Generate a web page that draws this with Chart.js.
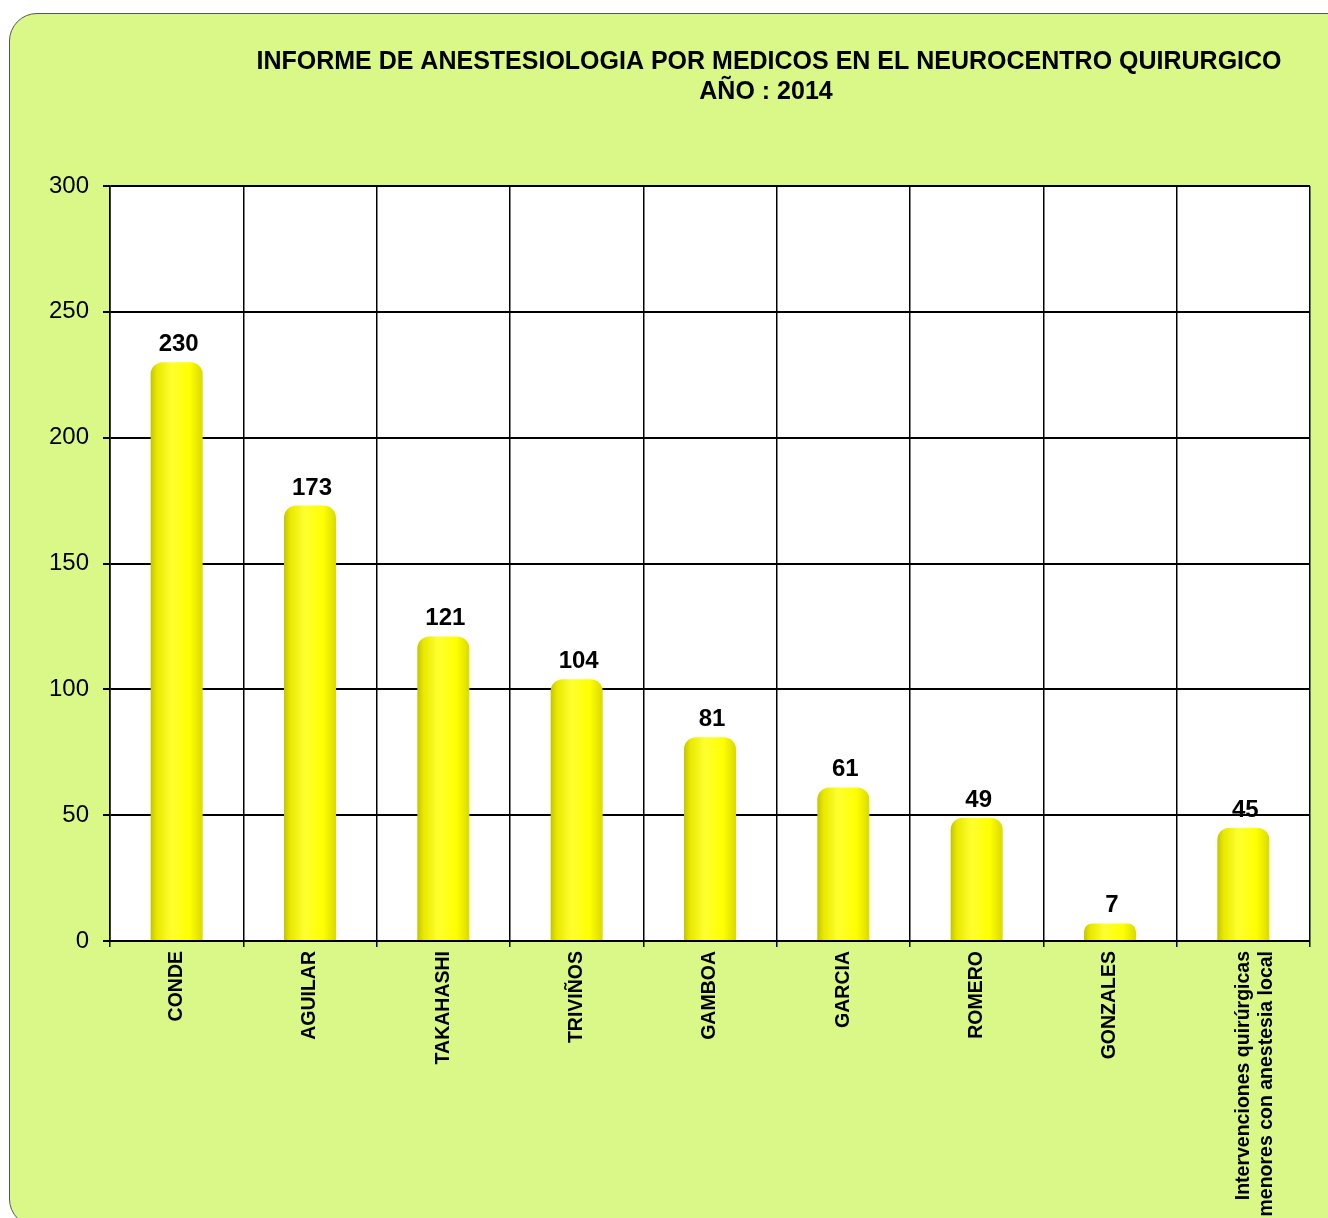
<!DOCTYPE html>
<html lang="es">
<head>
<meta charset="UTF-8">
<title>Informe de anestesiologia 2014</title>
<script src="https://cdn.jsdelivr.net/npm/chart.js"></script>
<style>
  body { margin: 0; background: #fff; width: 1328px; height: 1218px; overflow: hidden; position: relative; }
  .box {
    position: absolute; left: 9px; top: 13px; width: 1360px; height: 1212px;
    background: #d9f887; border: 1.5px solid #555; border-radius: 28px;
  }
  #chart { position: absolute; left: 0; top: 0; }
</style>
</head>
<body>
<div class="box"></div>
<canvas id="chart" width="1328" height="1218"></canvas>
<script>
const medicos = ['CONDE', 'AGUILAR', 'TAKAHASHI', 'TRIVIÑOS', 'GAMBOA', 'GARCIA', 'ROMERO', 'GONZALES',
  ['Intervenciones quirúrgicas', 'menores con anestesia local']];
const cantidades = [230, 173, 121, 104, 81, 61, 49, 7, 45];
const titulo = ['INFORME DE ANESTESIOLOGIA POR MEDICOS EN EL NEUROCENTRO QUIRURGICO', 'AÑO : 2014'];

const FONT = '"Liberation Sans", Arial, sans-serif';
const BAR_PCT = 0.39;

// cylinder-ish shading across each bar
function barFill(c) {
  const chart = c.chart;
  const xs = chart.scales.x;
  if (!xs || !chart.chartArea) return '#ffff00';
  const cx = xs.getPixelForValue(c.dataIndex);
  const w = xs.width / medicos.length * BAR_PCT;
  const g = chart.ctx.createLinearGradient(cx - w / 2, 0, cx + w / 2, 0);
  g.addColorStop(0, '#c4c400');
  g.addColorStop(0.12, '#e8e800');
  g.addColorStop(0.4, '#ffff30');
  g.addColorStop(0.75, '#ffff00');
  g.addColorStop(1, '#dada00');
  return g;
}

const plotBg = {
  id: 'plotBg',
  beforeDraw(chart) {
    const { ctx, chartArea: a } = chart;
    ctx.save();
    ctx.fillStyle = '#fff';
    ctx.fillRect(a.left, a.top, a.right - a.left, a.bottom - a.top);
    ctx.restore();
  }
};

const header = {
  id: 'header',
  afterDraw(chart) {
    const ctx = chart.ctx;
    ctx.save();
    ctx.fillStyle = '#000';
    ctx.font = 'bold 25px ' + FONT;
    ctx.textAlign = 'center';
    ctx.textBaseline = 'middle';
    ctx.fillText(titulo[0], 769, 62);
    ctx.fillText(titulo[1], 766, 92);
    ctx.restore();
  }
};

const valueLabels = {
  id: 'valueLabels',
  afterDatasetsDraw(chart) {
    const ctx = chart.ctx;
    ctx.save();
    ctx.fillStyle = '#000';
    ctx.font = 'bold 24px ' + FONT;
    ctx.textAlign = 'center';
    ctx.textBaseline = 'alphabetic';
    chart.getDatasetMeta(0).data.forEach((bar, i) => {
      ctx.fillText(String(cantidades[i]), bar.x + 2, bar.y - 11);
    });
    ctx.restore();
  }
};

new Chart(document.getElementById('chart'), {
  type: 'bar',
  data: {
    labels: medicos,
    datasets: [{
      data: cantidades,
      backgroundColor: barFill,
      borderWidth: 0,
      borderRadius: { topLeft: 12, topRight: 12, bottomLeft: 0, bottomRight: 0 },
      borderSkipped: 'bottom',
      categoryPercentage: 1,
      barPercentage: BAR_PCT
    }]
  },
  options: {
    responsive: false,
    animation: false,
    layout: { padding: { left: 0, right: 18, top: 186, bottom: 0 } },
    plugins: { legend: { display: false }, title: { display: false }, tooltip: { enabled: false } },
    scales: {
      x: {
        grid: { color: '#000', lineWidth: 1.5, offset: true, tickLength: 6 },
        border: { color: '#000', width: 2 },
        ticks: {
          color: '#000', autoSkip: false, minRotation: 90, maxRotation: 90, padding: 4,
          font: { family: FONT, size: 19.5, weight: 'bold' }
        },
        afterFit(s) { s.height = 277; }
      },
      y: {
        min: 0, max: 300,
        grid: { color: '#000', lineWidth: 2, tickLength: 7 },
        border: { color: '#000', width: 1.5 },
        ticks: { stepSize: 50, color: '#000', padding: 14, font: { family: FONT, size: 24 } },
        afterFit(s) { s.width = 110; }
      }
    }
  },
  plugins: [plotBg, header, valueLabels]
});
</script>
</body>
</html>
